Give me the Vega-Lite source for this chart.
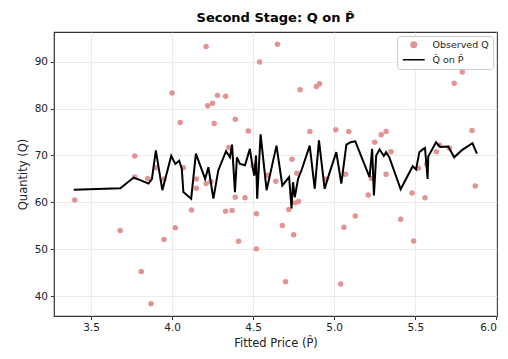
{
  "$schema": "https://vega.github.io/schema/vega-lite/v6.json",
  "width": 443,
  "height": 284,
  "autosize": {"type": "none"},
  "padding": {"left": 54, "top": 32, "right": 11, "bottom": 43},
  "background": "white",
  "config": {
    "font": "DejaVu Sans",
    "view": {"stroke": "#333", "strokeWidth": 1.2},
    "axis": {
      "labelFont": "DejaVu Sans", "labelFontSize": 10.5, "labelColor": "#222",
      "titleFont": "DejaVu Sans", "titleFontSize": 11.5, "titleFontWeight": "normal", "titleColor": "#222",
      "gridColor": "#e6e6e6", "gridWidth": 0.8,
      "tickColor": "#333", "tickSize": 3.5, "domain": false
    },
    "legend": {"labelFont": "DejaVu Sans"}
  },
  "title": {"text": "Second Stage: Q on P\u0302", "fontSize": 13, "fontWeight": "bold", "font": "DejaVu Sans", "anchor": "middle", "offset": 7, "color": "#000"},
  "datasets": {
    "obs": [
      {"p": 3.40, "q": 60.5}, {"p": 3.68, "q": 54.0}, {"p": 3.77, "q": 65.4}, {"p": 3.85, "q": 65.1},
      {"p": 3.81, "q": 45.3}, {"p": 3.87, "q": 38.4}, {"p": 3.95, "q": 52.1}, {"p": 4.02, "q": 54.6},
      {"p": 3.95, "q": 65.0}, {"p": 4.12, "q": 58.4}, {"p": 4.15, "q": 63.0}, {"p": 4.21, "q": 64.0},
      {"p": 4.24, "q": 64.4}, {"p": 4.33, "q": 58.1}, {"p": 4.37, "q": 58.3}, {"p": 4.39, "q": 61.1},
      {"p": 4.45, "q": 61.0}, {"p": 4.41, "q": 51.7}, {"p": 4.52, "q": 57.6}, {"p": 4.52, "q": 50.1},
      {"p": 4.59, "q": 65.8}, {"p": 4.64, "q": 64.5}, {"p": 4.21, "q": 93.2}, {"p": 4.65, "q": 93.7},
      {"p": 4.54, "q": 89.9}, {"p": 4.00, "q": 83.3}, {"p": 4.28, "q": 82.8}, {"p": 4.33, "q": 82.6},
      {"p": 4.22, "q": 80.6}, {"p": 4.25, "q": 81.1}, {"p": 4.05, "q": 77.0}, {"p": 4.26, "q": 76.8},
      {"p": 4.39, "q": 77.7}, {"p": 4.47, "q": 75.2}, {"p": 4.35, "q": 71.7}, {"p": 3.77, "q": 69.9},
      {"p": 4.07, "q": 67.4}, {"p": 4.15, "q": 65.0}, {"p": 4.50, "q": 67.8}, {"p": 3.90, "q": 67.4},
      {"p": 4.79, "q": 84.0}, {"p": 4.89, "q": 84.7}, {"p": 4.91, "q": 85.3}, {"p": 5.74, "q": 85.4},
      {"p": 5.79, "q": 87.8}, {"p": 4.85, "q": 75.1}, {"p": 5.01, "q": 75.5}, {"p": 5.09, "q": 75.1},
      {"p": 5.29, "q": 74.4}, {"p": 5.32, "q": 75.1}, {"p": 5.25, "q": 72.8}, {"p": 5.35, "q": 70.8},
      {"p": 5.85, "q": 75.3}, {"p": 5.65, "q": 72.2}, {"p": 5.71, "q": 71.6}, {"p": 5.63, "q": 70.8},
      {"p": 4.74, "q": 69.2}, {"p": 4.77, "q": 66.2}, {"p": 5.07, "q": 66.0}, {"p": 5.32, "q": 66.0},
      {"p": 5.23, "q": 65.1}, {"p": 5.52, "q": 67.3}, {"p": 5.57, "q": 68.2}, {"p": 5.87, "q": 63.5},
      {"p": 5.21, "q": 61.6}, {"p": 5.48, "q": 62.0}, {"p": 5.56, "q": 61.0}, {"p": 4.78, "q": 60.2},
      {"p": 4.76, "q": 59.9}, {"p": 4.72, "q": 58.5}, {"p": 4.68, "q": 55.1}, {"p": 4.75, "q": 53.1},
      {"p": 5.06, "q": 54.7}, {"p": 5.13, "q": 57.1}, {"p": 5.41, "q": 56.4}, {"p": 5.49, "q": 51.8},
      {"p": 4.70, "q": 43.1}, {"p": 5.04, "q": 42.6}, {"p": 4.95, "q": 65.0}
    ],
    "fit": [
      {"i": 1, "p": 3.394, "q": 62.7}, {"i": 2, "p": 3.681, "q": 63.0}, {"i": 3, "p": 3.763, "q": 65.3},
      {"i": 4, "p": 3.800, "q": 64.8}, {"i": 5, "p": 3.855, "q": 64.0}, {"i": 6, "p": 3.876, "q": 65.0},
      {"i": 7, "p": 3.900, "q": 71.1}, {"i": 8, "p": 3.940, "q": 62.6}, {"i": 9, "p": 3.995, "q": 69.9},
      {"i": 10, "p": 4.020, "q": 68.2}, {"i": 11, "p": 4.044, "q": 68.9}, {"i": 12, "p": 4.060, "q": 67.2},
      {"i": 13, "p": 4.070, "q": 62.2}, {"i": 14, "p": 4.118, "q": 60.8}, {"i": 15, "p": 4.147, "q": 70.4},
      {"i": 16, "p": 4.204, "q": 65.0}, {"i": 17, "p": 4.224, "q": 67.5}, {"i": 18, "p": 4.255, "q": 60.8},
      {"i": 19, "p": 4.285, "q": 66.8}, {"i": 20, "p": 4.333, "q": 70.9}, {"i": 21, "p": 4.357, "q": 69.6},
      {"i": 22, "p": 4.370, "q": 72.3}, {"i": 23, "p": 4.388, "q": 62.2}, {"i": 24, "p": 4.400, "q": 69.6},
      {"i": 25, "p": 4.419, "q": 68.2}, {"i": 26, "p": 4.450, "q": 67.9}, {"i": 27, "p": 4.480, "q": 71.4},
      {"i": 28, "p": 4.497, "q": 67.5}, {"i": 29, "p": 4.507, "q": 65.7}, {"i": 30, "p": 4.518, "q": 70.0},
      {"i": 31, "p": 4.525, "q": 60.8}, {"i": 32, "p": 4.546, "q": 74.5}, {"i": 33, "p": 4.583, "q": 62.6},
      {"i": 34, "p": 4.644, "q": 72.1}, {"i": 35, "p": 4.680, "q": 63.6}, {"i": 36, "p": 4.722, "q": 65.4},
      {"i": 37, "p": 4.737, "q": 58.7}, {"i": 38, "p": 4.746, "q": 64.3}, {"i": 39, "p": 4.757, "q": 61.1},
      {"i": 40, "p": 4.777, "q": 65.0}, {"i": 41, "p": 4.798, "q": 66.8}, {"i": 42, "p": 4.849, "q": 72.1},
      {"i": 43, "p": 4.880, "q": 62.9}, {"i": 44, "p": 4.906, "q": 73.2}, {"i": 45, "p": 4.941, "q": 62.9},
      {"i": 46, "p": 4.972, "q": 66.4}, {"i": 47, "p": 5.013, "q": 70.7}, {"i": 48, "p": 5.044, "q": 64.0},
      {"i": 49, "p": 5.075, "q": 72.3}, {"i": 50, "p": 5.100, "q": 72.8}, {"i": 51, "p": 5.130, "q": 73.0},
      {"i": 52, "p": 5.218, "q": 65.4}, {"i": 53, "p": 5.234, "q": 71.4}, {"i": 54, "p": 5.245, "q": 61.5},
      {"i": 55, "p": 5.259, "q": 70.0}, {"i": 56, "p": 5.280, "q": 71.3}, {"i": 57, "p": 5.306, "q": 69.9},
      {"i": 58, "p": 5.320, "q": 70.7}, {"i": 59, "p": 5.340, "q": 69.6}, {"i": 60, "p": 5.410, "q": 62.8},
      {"i": 61, "p": 5.484, "q": 67.7}, {"i": 62, "p": 5.505, "q": 67.0}, {"i": 63, "p": 5.525, "q": 70.7},
      {"i": 64, "p": 5.546, "q": 71.3}, {"i": 65, "p": 5.560, "q": 71.6}, {"i": 66, "p": 5.576, "q": 65.0},
      {"i": 67, "p": 5.580, "q": 69.8}, {"i": 68, "p": 5.628, "q": 72.8}, {"i": 69, "p": 5.654, "q": 71.8},
      {"i": 70, "p": 5.703, "q": 71.9}, {"i": 71, "p": 5.740, "q": 69.6}, {"i": 72, "p": 5.790, "q": 71.2},
      {"i": 73, "p": 5.853, "q": 72.6}, {"i": 74, "p": 5.880, "q": 70.4}
    ]
  },
  "encoding": {
    "x": {"field": "p", "type": "quantitative", "title": "Fitted Price (P\u0302)",
          "scale": {"domain": [3.272, 6.004], "nice": false, "zero": false},
          "axis": {"values": [3.5, 4.0, 4.5, 5.0, 5.5, 6.0], "format": ".1f", "titlePadding": 4, "labelPadding": 3}},
    "y": {"field": "q", "type": "quantitative", "title": "Quantity (Q)",
          "scale": {"domain": [35.8, 96.3], "nice": false, "zero": false},
          "axis": {"values": [40, 50, 60, 70, 80, 90], "titlePadding": 6, "labelPadding": 3}}
  },
  "layer": [
    {
      "data": {"name": "obs"},
      "transform": [{"calculate": "'Observed Q'", "as": "series"}],
      "mark": {"type": "point", "filled": true, "size": 30, "opacity": 1},
      "encoding": {
        "color": {"field": "series", "type": "nominal",
          "scale": {"domain": ["Observed Q", "Q\u0302 on P\u0302"], "range": ["#e29494", "#000000"]},
          "legend": {"title": null, "orient": "top-right", "offset": 4, "padding": 4,
            "strokeColor": "#cccccc", "fillColor": "white", "cornerRadius": 3,
            "labelFontSize": 9.5, "labelColor": "#222", "symbolSize": 30, "rowPadding": 3,
            "labelOffset": 14, "symbolOffset": 8,
            "encode": {"symbols": {"update": {"stroke": {"scale": "color", "field": "value"}, "strokeWidth": {"value": 2.2}}}}}},
        "shape": {"field": "series", "type": "nominal",
          "scale": {"domain": ["Observed Q", "Q\u0302 on P\u0302"], "range": ["circle", "M-4,0H4"]},
          "legend": {"title": null, "orient": "top-right"}}
      }
    },
    {
      "data": {"name": "fit"},
      "transform": [{"calculate": "'Q\u0302 on P\u0302'", "as": "series"}],
      "mark": {"type": "line", "strokeWidth": 2, "strokeJoin": "miter"},
      "encoding": {
        "order": {"field": "i", "type": "quantitative"},
        "color": {"field": "series", "type": "nominal"}
      }
    }
  ]
}
